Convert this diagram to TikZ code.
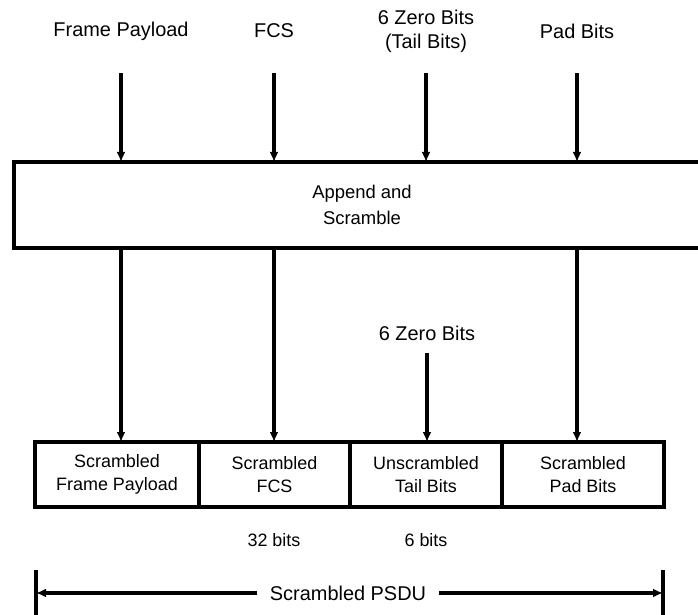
\documentclass[tikz,border=0pt]{standalone}
\usepackage{fontspec}
\setmainfont{Liberation Sans}
\usetikzlibrary{arrows.meta,positioning}

\begin{document}
\begin{tikzpicture}[
    x=1bp, y=-1bp,
    lbl/.style={font=\fontsize{20}{24}\selectfont, align=center, inner sep=0pt},
    note/.style={font=\fontsize{18}{23}\selectfont, align=center, inner sep=0pt},
    cell/.style={draw, line width=3.5bp, outer sep=0pt, inner sep=0pt, align=center,
                 font=\fontsize{18}{23}\selectfont, minimum height=65bp},
    >={Latex[length=10bp,width=9bp]},
    flow/.style={->, line width=3.3bp}
  ]
  \useasboundingbox (0,0) rectangle (698,615);
  \clip (0,0) rectangle (698,615);

  % inputs
  \node[lbl] (fp)  at (121,31) {Frame Payload};
  \node[lbl] (fcs) at (274,31) {FCS};
  \node[lbl] (tb)  at (426,31) {6 Zero Bits\\(Tail Bits)};
  \node[lbl] (pb)  at (577,31) {Pad Bits};
  \coordinate (in) at (0,73);

  \node[draw, line width=4bp, outer sep=0pt, minimum width=696bp, minimum height=86bp,
        align=center, font=\fontsize{18.5}{26}\selectfont] (app) at (362,205) {Append and\\Scramble};

  % output fields
  \node[cell, minimum width=164bp] (c1) at (117,474.5) {Scrambled\\Frame Payload};
  \node[cell, minimum width=151bp, right=0bp of c1] (c2) {Scrambled\\FCS};
  \node[cell, minimum width=152bp, right=0bp of c2] (c3) {Unscrambled\\Tail Bits};
  \node[cell, minimum width=162bp, right=0bp of c3] (c4) {Scrambled\\Pad Bits};

  \node[lbl] (z6) at (427,333) {6 Zero Bits};

  \draw[flow] (fp |- in) -- (fp |- app.north);
  \draw[flow] (fcs |- in) -- (fcs |- app.north);
  \draw[flow] (tb |- in) -- (tb |- app.north);
  \draw[flow] (pb |- in) -- (pb |- app.north);

  \draw[flow] (fp |- app.south) -- (fp |- c1.north);
  \draw[flow] (fcs |- app.south) -- (fcs |- c2.north);
  \draw[flow] (pb |- app.south) -- (pb |- c4.north);
  \draw[flow, shorten <=12bp] (z6.south) -- (z6.south |- c3.north);

  \node[note] (n32) at (274,540) {32 bits};
  \node[note] (n6)  at (426,540) {6 bits};

  % PSDU span
  \node[lbl, inner xsep=13bp] (psdu) at (348,593) {Scrambled PSDU};
  \coordinate (pl) at (36,593);
  \coordinate (pr) at (663,593);
  \draw[line width=3.5bp] (pl |- 0,570) -- (pl |- 0,620);
  \draw[line width=3.5bp] (pr |- 0,570) -- (pr |- 0,620);
  \draw[flow] (psdu.west) -- (pl);
  \draw[flow] (psdu.east) -- (pr);
\end{tikzpicture}
\end{document}
